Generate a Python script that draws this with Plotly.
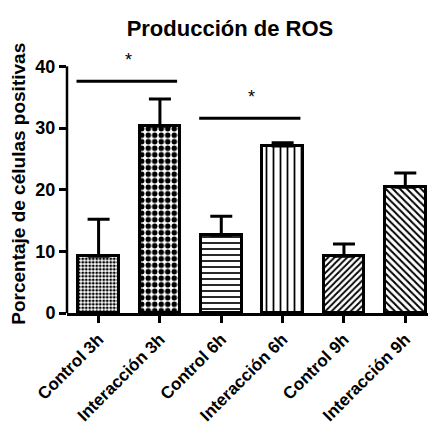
import plotly.graph_objects as go

# Grupos y resultados (media y error superior)
categorias = ["Control 3h", "Interacción 3h", "Control 6h",
              "Interacción 6h", "Control 9h", "Interacción 9h"]
medias = [9.2, 30.3, 12.6, 27.1, 9.2, 20.4]
errores = [6.0, 4.4, 3.1, 0.5, 2.0, 2.3]

# Comparaciones significativas: (inicio, fin, altura, texto)
comp_inicio = [-0.36, 1.64]
comp_fin = [1.28, 3.29]
comp_altura = [37.6, 31.6]
comp_texto = ["*", "*"]

patrones = [
    dict(shape=".", size=3.5, solidity=0.5),
    dict(shape=".", size=6.5, solidity=0.55),
    dict(shape="-", size=6, solidity=0.28),
    dict(shape="|", size=7, solidity=0.25),
    dict(shape="/", size=4.5, solidity=0.4),
    dict(shape="\\", size=5, solidity=0.4),
]

FONT = "Liberation Sans, Arial, sans-serif"
x_pos = list(range(len(categorias)))

fig = go.Figure()
for i, cat in enumerate(categorias):
    p = patrones[i]
    fig.add_trace(go.Bar(
        x=[x_pos[i]], y=[medias[i]], width=0.66, name=cat,
        marker=dict(color="white",
                    line=dict(color="black", width=3),
                    pattern=dict(shape=p["shape"], size=p["size"],
                                 solidity=p["solidity"],
                                 fgcolor="black", bgcolor="white",
                                 fillmode="replace")),
        error_y=dict(type="data", symmetric=False,
                     array=[errores[i]], arrayminus=[0],
                     color="black", thickness=3, width=11),
        showlegend=False,
    ))

shapes = [
    # eje Y de 0 a 40
    dict(type="line", xref="x domain", yref="y", x0=0, x1=0, y0=0, y1=40,
         line=dict(color="black", width=2.5)),
]
annotations = [
    dict(text="Porcentaje de células positivas", textangle=-90,
         xref="paper", yref="paper", x=-0.135, y=0.5,
         xanchor="center", yanchor="middle", showarrow=False,
         font=dict(family=FONT, size=19, color="black", weight="bold")),
]
for x0, x1, h, t in zip(comp_inicio, comp_fin, comp_altura, comp_texto):
    shapes.append(dict(type="line", xref="x", yref="y", x0=x0, x1=x1,
                       y0=h, y1=h, line=dict(color="black", width=3)))
    annotations.append(dict(x=(x0 + x1) / 2 + 0.02, y=h + 3.4, xref="x", yref="y",
                            text=t, showarrow=False,
                            font=dict(family=FONT, size=18, color="black")))

fig.update_layout(
    width=433, height=425,
    margin=dict(l=67, r=5, t=53.6, b=112.3, autoexpand=False),
    paper_bgcolor="white", plot_bgcolor="white",
    bargap=0,
    title=dict(text="Producción de ROS", x=0.531, xref="container",
               xanchor="center", y=0.934, yref="container", yanchor="middle",
               font=dict(family=FONT, size=22, color="black", weight="bold")),
    shapes=shapes, annotations=annotations,
    xaxis=dict(range=[-0.515, 5.37], tickvals=x_pos, ticktext=categorias,
               tickangle=-45, showline=True, linecolor="black", linewidth=2.5,
               ticks="outside", ticklen=7, tickwidth=2.5, tickcolor="black",
               showgrid=False, zeroline=False, automargin=False,
               tickfont=dict(family=FONT, size=17, color="black", weight="bold")),
    yaxis=dict(range=[0, 42], tickvals=[0, 10, 20, 30, 40],
               showline=False, ticks="outside", ticklen=7, tickwidth=2.5,
               tickcolor="black", showgrid=False, zeroline=False, automargin=False,
               tickfont=dict(family=FONT, size=18, color="black", weight="bold")),
)

fig.write_html("out.html")
